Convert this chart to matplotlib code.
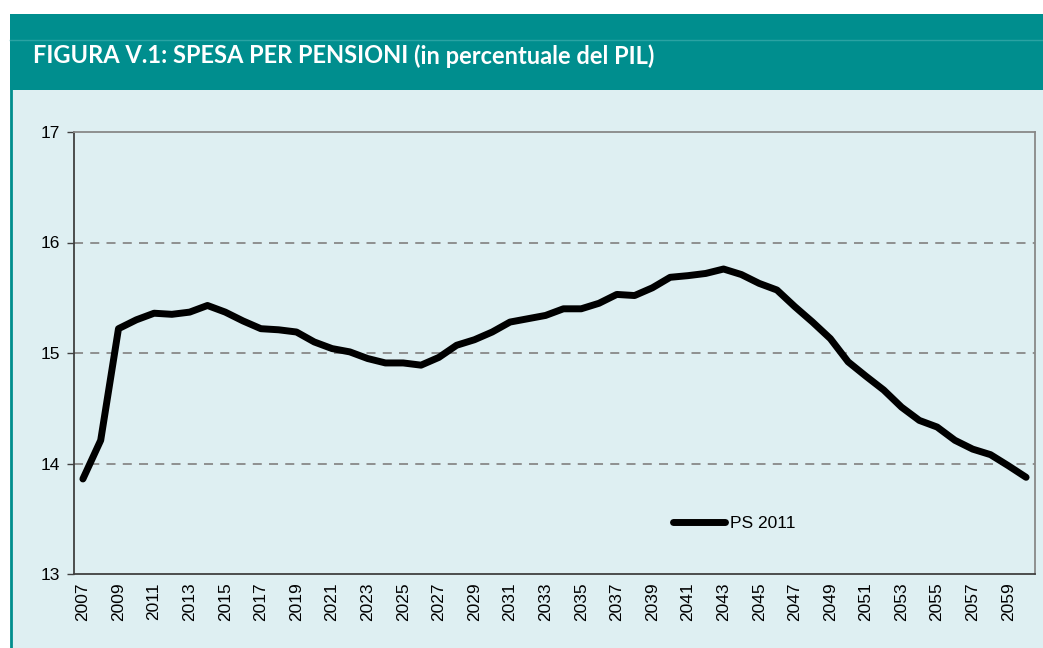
import matplotlib
matplotlib.use("Agg")
import matplotlib.pyplot as plt
from matplotlib.patches import Rectangle
from matplotlib.lines import Line2D

# pension spending, % of GDP
years = list(range(2007, 2061))
spesa = [13.86, 14.21, 15.22, 15.30, 15.36, 15.35, 15.37, 15.43, 15.37, 15.29,
         15.22, 15.21, 15.19, 15.10, 15.04, 15.01, 14.95, 14.91, 14.91, 14.89,
         14.96, 15.07, 15.12, 15.19, 15.28, 15.31, 15.34, 15.40, 15.40, 15.45,
         15.53, 15.52, 15.59, 15.685, 15.70, 15.72, 15.76, 15.71, 15.63, 15.57,
         15.42, 15.28, 15.13, 14.92, 14.79, 14.665, 14.51, 14.39, 14.33, 14.21,
         14.13, 14.08, 13.98, 13.875]
tick_years = list(range(2007, 2061, 2))
y_ticks = [13, 14, 15, 16, 17]
serie = "PS 2011"
titolo_a = "FIGURA V.1: SPESA PER PENSIONI "
titolo_b = "(in percentuale del PIL)"

teal = "#008E8E"
panel = "#DEEFF2"

plt.rcParams['font.family'] = ['Liberation Sans', 'DejaVu Sans']

fig = plt.figure(figsize=(10.43, 6.48), dpi=100)
fig.patch.set_facecolor("white")

# header band and panel
fig.add_artist(Rectangle((10/1043, 0), 1, 558/648, transform=fig.transFigure,
                         facecolor=panel, edgecolor="none", zorder=0))
fig.add_artist(Rectangle((10/1043, 558/648), 1, 76/648, transform=fig.transFigure,
                         facecolor=teal, edgecolor="none", zorder=0))
fig.add_artist(Line2D([10/1043, 1], [608/648, 608/648], transform=fig.transFigure,
                      color="#2AA3A3", lw=1, zorder=1))
fig.add_artist(Line2D([11/1043, 11/1043], [0, 558/648], transform=fig.transFigure,
                      color=teal, lw=2, zorder=1))

t = fig.text(33/1043, 0.914, titolo_a, color="white", fontsize=17,
             fontweight="bold", family=["Lato", "DejaVu Sans"], va="center")
fig.canvas.draw()
bb = t.get_window_extent()
fig.text(bb.x1/1043, 0.914, titolo_b, color="white", fontsize=17,
         fontweight="bold", family=["Lato", "DejaVu Sans"], va="center")

ax = fig.add_axes([74/1043, 74/648, 961/1043, 442/648])
ax.set_facecolor(panel)
ax.plot(years, spesa, color="black", lw=5, solid_capstyle="round",
        solid_joinstyle="round", label=serie, zorder=3)

ax.set_xlim(2006.5, 2060.5)
ax.set_ylim(13, 17)
ax.set_yticks(y_ticks)
ax.set_xticks(tick_years)
ax.set_xticklabels([str(y) for y in tick_years], rotation=90, fontsize=12.5)
ax.tick_params(axis="x", length=0, pad=6)
ax.tick_params(axis="y", length=5, width=1, color="#404040", labelsize=12.5, pad=5)
for v in [14, 15, 16]:
    ax.axhline(v, color="#888888", lw=1.3, ls=(0, (5, 4)), zorder=1)

ax.spines["left"].set_color("#404040")
ax.spines["bottom"].set_color("#404040")
ax.spines["top"].set_color("#888888")
ax.spines["right"].set_color("#888888")
for s in ax.spines.values():
    s.set_linewidth(1.3)

ax.legend(loc="center left", bbox_to_anchor=(0.607, 0.115), frameon=False,
          fontsize=12.5, handlelength=3.0, handletextpad=0.3)

fig.savefig("out.png", dpi=100, facecolor=fig.get_facecolor())
